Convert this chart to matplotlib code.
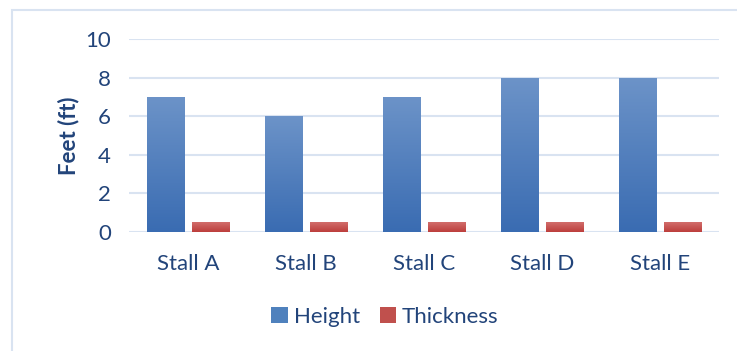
import numpy as np
import matplotlib.pyplot as plt
from matplotlib.colors import LinearSegmentedColormap
from matplotlib.patches import Rectangle

# data
stalls = ["Stall A", "Stall B", "Stall C", "Stall D", "Stall E"]
height = [7, 6, 7, 8, 8]
thickness = [0.5, 0.5, 0.5, 0.5, 0.5]

txt = "#22447a"
grid_c = "#d9e3f1"
plt.rcParams['font.family'] = ['Lato', 'DejaVu Sans']

fig = plt.figure(figsize=(7.37, 3.51), dpi=100)
ax = fig.add_axes([129/737, 1-232/351, (719-129)/737, (232-39)/351])

# border round the chart (only top and left show in the crop)
fig.add_artist(Rectangle((12/737, -0.1), 1.0, 1-10/351+0.1, transform=fig.transFigure,
                         fill=False, edgecolor=grid_c, linewidth=1.5))

x = np.arange(len(stalls))
w = 0.315
b1 = ax.bar(x - 0.19, height, w, color="#4f81bd", label="Height", zorder=3)
b2 = ax.bar(x + 0.19, thickness, w, color="#c0504d", label="Thickness", zorder=3)

# vertical gradient in each bar
blue = LinearSegmentedColormap.from_list("b", ["#3a6cb2", "#6c93c8"])
red = LinearSegmentedColormap.from_list("r", ["#bd3e3c", "#d16d6b"])
grad = np.linspace(0, 1, 100).reshape(-1, 1)
for bars, cm in ((b1, blue), (b2, red)):
    for p in bars:
        x0, y0 = p.get_x(), p.get_y()
        im = ax.imshow(grad, cmap=cm, origin="lower", aspect="auto",
                       extent=[x0, x0 + p.get_width(), y0, y0 + p.get_height()], zorder=4)
        im.set_clip_path(p)

ax.set_xlim(-0.5, len(stalls) - 0.5)
ax.set_ylim(0, 10)
ax.set_yticks([0, 2, 4, 6, 8, 10])
ax.set_xticks(x)
ax.set_xticklabels(stalls)
ax.yaxis.grid(True, color=grid_c, linewidth=1.5, zorder=0)
ax.set_axisbelow(True)
for s in ax.spines.values():
    s.set_visible(False)
ax.tick_params(length=0, labelsize=16, labelcolor=txt)
ax.tick_params(axis='y', pad=13)
ax.tick_params(axis='x', pad=16)
ax.set_ylabel("Feet (ft)", fontsize=16, fontweight="bold", color=txt, labelpad=4)

leg = fig.legend(handles=[b1, b2], loc="center", bbox_to_anchor=(385/737, 1-317/351),
                 ncol=2, frameon=False, fontsize=16, handlelength=0.75, handleheight=0.75,
                 handletextpad=0.25, columnspacing=0.9)
for t in leg.get_texts():
    t.set_color(txt)

fig.savefig("out.png", dpi=100)
